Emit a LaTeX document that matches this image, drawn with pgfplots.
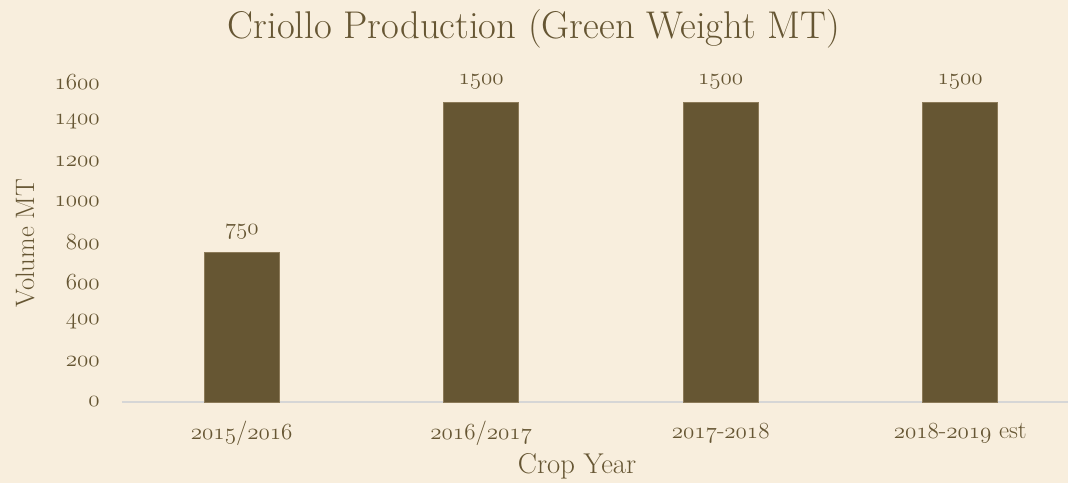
\documentclass[border=0pt]{standalone}
\usepackage{pgfplots}
\pgfplotsset{compat=1.18}
\definecolor{bgc}{RGB}{248,238,221}
\definecolor{brownc}{RGB}{102,86,51}
\definecolor{edgec}{RGB}{140,122,88}
\definecolor{axgray}{RGB}{214,214,214}
\newcommand\osf[1]{{\usefont{OML}{lmm}{m}{it}#1}}
\begin{document}
\begin{tikzpicture}
\useasboundingbox (0,0) rectangle (801pt,362.25pt);
\fill[bgc] (0,0) rectangle (801pt,362.25pt);
\begin{axis}[
  at={(91.5pt,60.75pt)}, anchor=south west,
  scale only axis, width=709.5pt, height=240pt,
  ymin=0, ymax=1600, xmin=-0.5, xmax=3.45,
  ybar, bar width=56.25pt, bar shift=0pt,
  axis x line=bottom, axis y line=left,
  x axis line style={draw=axgray, line width=1pt, -},
  y axis line style={draw=none},
  xtick={0,1,2,3},
  xticklabels={\osf{2015}/\osf{2016},\osf{2016}/\osf{2017},\osf{2017}-\osf{2018},\osf{2018}-\osf{2019} est},
  ytick={0,200,...,1600},
  yticklabels={\osf{0},\osf{200},\osf{400},\osf{600},\osf{800},\osf{1000},\osf{1200},\osf{1400},\osf{1600}},
  major tick length=0pt,
  every axis title shift=0pt,
  xticklabel style={font=\fontsize{18.5}{22}\selectfont, text=brownc, anchor=center, yshift=-23.25pt},
  yticklabel style={font=\fontsize{19}{22}\selectfont, text=brownc, anchor=east, inner sep=0pt, xshift=-16.5pt},
  title={Criollo Production (Green Weight MT)},
  title style={font=\fontsize{29}{34}\selectfont, text=brownc, at={(axis description cs:0.4355,1.165)}, anchor=center},
  xlabel={Crop Year},
  xlabel style={font=\fontsize{21.5}{25}\selectfont, text=brownc, at={(axis description cs:0.481,-0.2)}, anchor=center},
  ylabel={Volume MT},
  ylabel style={font=\fontsize{20}{24}\selectfont, text=brownc, at={(axis description cs:-0.1025,0.497)}, anchor=center, rotate=0},
  nodes near coords={\osf{\pgfmathprintnumber[assume math mode=true,1000 sep={}]{\pgfplotspointmeta}}},
  nodes near coords style={font=\fontsize{19}{22}\selectfont, text=brownc, anchor=center, yshift=15pt},
]
\addplot[fill=brownc, draw=edgec, line width=0.6pt] coordinates {(0,750) (1,1500) (2,1500) (3,1500)};
\end{axis}
\end{tikzpicture}
\end{document}
